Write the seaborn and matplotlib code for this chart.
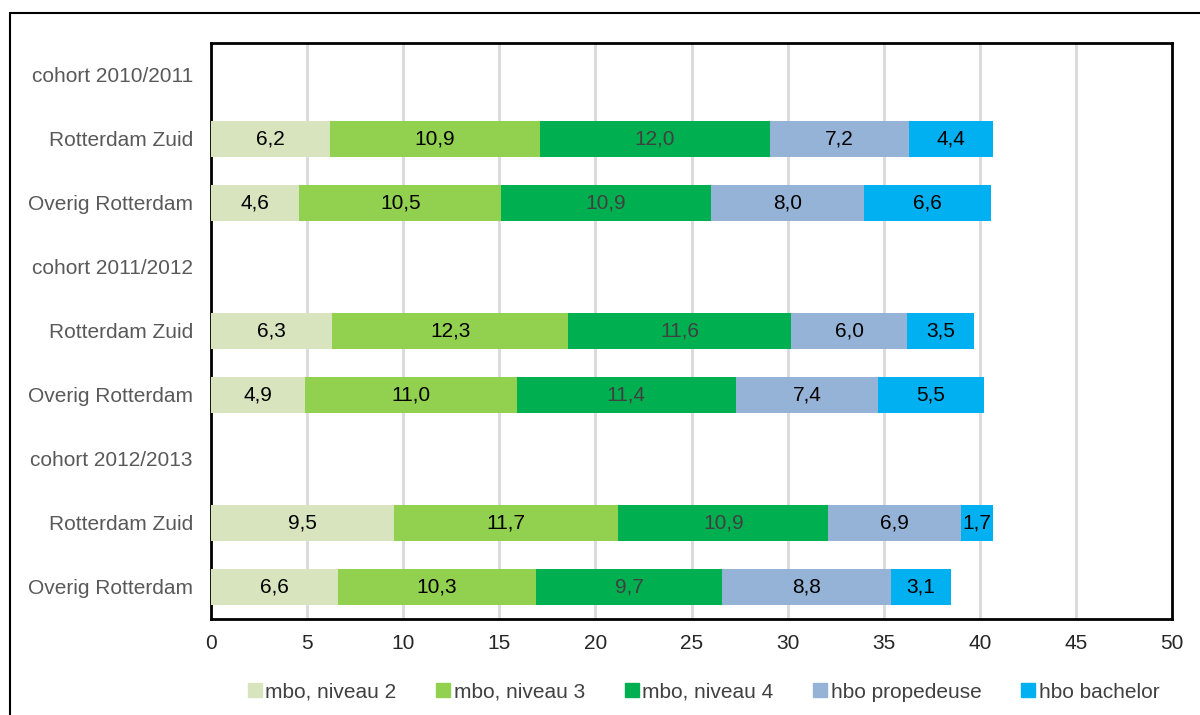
import numpy as np
import pandas as pd
import matplotlib
matplotlib.use("Agg")
import matplotlib.pyplot as plt
from matplotlib.lines import Line2D
import seaborn as sns

# ---- data ----
row_keys = ["c2010", "2010_RZ", "2010_OR", "c2011", "2011_RZ", "2011_OR", "c2012", "2012_RZ", "2012_OR"]
row_labels = ["cohort 2010/2011", "Rotterdam Zuid", "Overig Rotterdam",
              "cohort 2011/2012", "Rotterdam Zuid", "Overig Rotterdam",
              "cohort 2012/2013", "Rotterdam Zuid", "Overig Rotterdam"]
data_rows = ["2010_RZ", "2010_OR", "2011_RZ", "2011_OR", "2012_RZ", "2012_OR"]
levels = ["mbo, niveau 2", "mbo, niveau 3", "mbo, niveau 4", "hbo propedeuse", "hbo bachelor"]
mbo2 = [6.2, 4.6, 6.3, 4.9, 9.5, 6.6]
mbo3 = [10.9, 10.5, 12.3, 11.0, 11.7, 10.3]
mbo4 = [12.0, 10.9, 11.6, 11.4, 10.9, 9.7]
hbo_prop = [7.2, 8.0, 6.0, 7.4, 6.9, 8.8]
hbo_bach = [4.4, 6.6, 3.5, 5.5, 1.7, 3.1]
colors = ["#D7E4BD", "#92D050", "#00B050", "#95B3D7", "#00B0F0"]
label_colors = ["#000000", "#000000", "#404040", "#000000", "#000000"]
xticks = [0, 5, 10, 15, 20, 25, 30, 35, 40, 45, 50]

series = [mbo2, mbo3, mbo4, hbo_prop, hbo_bach]

sns.set_theme(style="white")
plt.rcParams["font.family"] = ["Liberation Sans", "DejaVu Sans"]

FS = 15

fig = plt.figure(figsize=(12, 7.15), dpi=100)
ax = fig.add_axes([211/1200, 1 - 619/715, (1172 - 211)/1200, (619 - 43)/715])

vals = np.array(series)  # levels x rows
cum = np.cumsum(vals, axis=0)

# stacked bars: draw cumulative totals from last level to first
for i in range(len(levels) - 1, -1, -1):
    df = pd.DataFrame({"row": data_rows, "cum": cum[i]})
    sns.barplot(data=df, x="cum", y="row", order=row_keys, color=colors[i],
                orient="h", width=0.56, saturation=1, errorbar=None,
                linewidth=0, ax=ax, zorder=3)

ax.set_ylim(8.5, -0.5)
ax.set_xlim(0, 50)
ax.set_xticks(xticks)
ax.set_xticklabels([str(t) for t in xticks], fontsize=FS, color="#262626")
ax.set_yticks(range(len(row_keys)))
ax.set_yticklabels(row_labels, fontsize=FS, color="#595959")
ax.set_xlabel("")
ax.set_ylabel("")
ax.tick_params(axis="y", length=0, pad=13)
ax.tick_params(axis="x", length=0, pad=11)
ax.xaxis.grid(True, color="#D9D9D9", linewidth=2, zorder=0)
ax.yaxis.grid(False)
ax.set_axisbelow(True)
for sp in ax.spines.values():
    sp.set_visible(True)
    sp.set_color("black")
    sp.set_linewidth(2)

# value labels
for j, rk in enumerate(data_rows):
    y = row_keys.index(rk)
    for i in range(len(levels)):
        v = vals[i, j]
        xc = cum[i, j] - v / 2
        ax.text(xc, y, f"{v:.1f}".replace(".", ","), ha="center", va="center",
                fontsize=FS, color=label_colors[i], zorder=5)

# legend
handles = [Line2D([0], [0], marker="s", linestyle="none", markersize=10,
                  markerfacecolor=c, markeredgecolor=c) for c in colors]
fig.legend(handles, levels, loc="center", bbox_to_anchor=(703/1200, 1 - 692/715),
           ncol=5, frameon=False, fontsize=FS, handletextpad=0.1,
           columnspacing=1.85, labelcolor="#404040", handlelength=0.8)

# outer frame (left and top edges)
fig.add_artist(Line2D([10/1200, 10/1200], [0, 1 - 13/715], transform=fig.transFigure,
                      color="black", linewidth=1.5))
fig.add_artist(Line2D([10/1200, 1], [1 - 13/715, 1 - 13/715], transform=fig.transFigure,
                      color="black", linewidth=1.5))

fig.savefig("out.png", dpi=100, facecolor="white")
